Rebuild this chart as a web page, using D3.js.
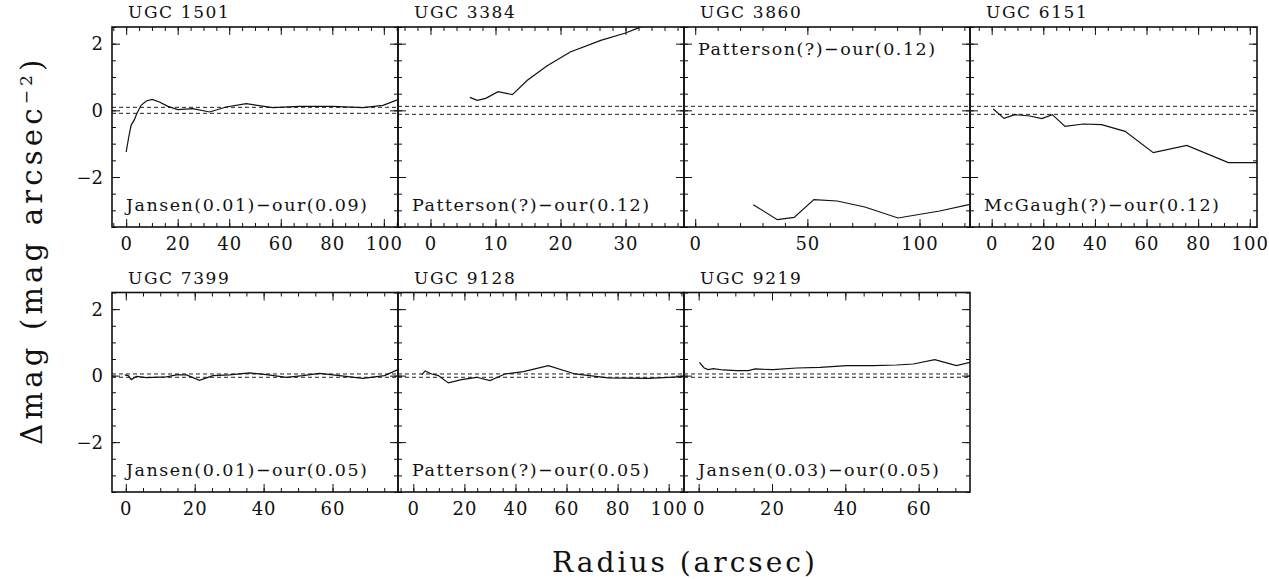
<!DOCTYPE html>
<html>
<head>
<meta charset="utf-8">
<script src="https://cdn.jsdelivr.net/npm/d3@7"></script>
<style>
  html, body { margin: 0; padding: 0; background: #fff; }
  svg text { font-family: "DejaVu Serif", "Liberation Serif", serif; fill: #111; }
</style>
</head>
<body>
<svg id="chart" width="1269" height="579"></svg>
<script>
// Galaxy names, comparison labels and the photometric error of our profiles
const galaxies = ["UGC 1501", "UGC 3384", "UGC 3860", "UGC 6151", "UGC 7399", "UGC 9128", "UGC 9219"];
const notes = [
  "Jansen(0.01)\u2212our(0.09)",
  "Patterson(?)\u2212our(0.12)",
  "Patterson(?)\u2212our(0.12)",
  "McGaugh(?)\u2212our(0.12)",
  "Jansen(0.01)\u2212our(0.05)",
  "Patterson(?)\u2212our(0.05)",
  "Jansen(0.03)\u2212our(0.05)"
];
const ourErrors = [0.09, 0.12, 0.12, 0.12, 0.05, 0.05, 0.05];

// Radius ranges (arcsec) and tick steps of each panel
const radiusRanges = [[-5.5, 105.5], [-5, 39], [-5, 122.5], [-8.4, 102.8], [-4, 79], [-6, 106], [-4, 74]];
const majorSteps = [20, 10, 50, 20, 20, 20, 20];
const minorSteps = [5, 2, 10, 5, 5, 5, 5];
const dmagRange = [-3.5, 2.5];
const dmagTicks = [-2, 0, 2];

// Magnitude differences along radius
const radius1501 = [0, 1, 1.9, 3.2, 4.1, 5.8, 7.8, 10.1, 12.9, 16.2, 20, 25.9, 32.4, 38.8, 46.6, 56.9, 67.3, 80.2, 91.9, 99.7, 105.5];
const dmag1501   = [-1.25, -0.8, -0.45, -0.28, -0.1, 0.15, 0.28, 0.33, 0.25, 0.12, 0.02, 0.05, -0.05, 0.1, 0.2, 0.08, 0.12, 0.12, 0.08, 0.15, 0.32];

const radius3384 = [6.05, 7.2, 8.5, 10.4, 12.6, 14.9, 17.9, 21.5, 26.2, 30, 31.7, 33];
const dmag3384   = [0.39, 0.3, 0.36, 0.56, 0.47, 0.9, 1.33, 1.75, 2.1, 2.32, 2.45, 2.55];

const radius3860 = [25.9, 36.6, 44.1, 52.9, 63.3, 75.6, 90.4, 109, 122.5];
const dmag3860   = [-2.83, -3.28, -3.21, -2.68, -2.72, -2.9, -3.23, -3.02, -2.82];

const radius6151 = [0.6, 4.8, 9, 14.8, 19.4, 23.5, 28.4, 35.5, 42.6, 51.7, 62.6, 75.6, 91.7, 102.8];
const dmag6151   = [0.04, -0.24, -0.13, -0.17, -0.25, -0.13, -0.48, -0.41, -0.43, -0.63, -1.27, -1.05, -1.57, -1.57];

const radius7399 = [-0.3, 0.7, 1.6, 3.1, 6, 11.8, 14.7, 17.6, 21.4, 25.3, 30.1, 35.9, 40.8, 46.6, 51.4, 56.2, 62, 68.8, 75.1, 79];
const dmag7399   = [0.02, 0, -0.12, -0.02, -0.06, -0.04, 0.02, 0.02, -0.14, 0, 0.02, 0.08, 0.03, -0.05, 0, 0.07, 0, -0.08, 0, 0.18];

const radius9128 = [3.3, 4.6, 7.2, 9.8, 13.7, 18.9, 24.8, 30, 35.9, 43.1, 52.9, 63.3, 76.3, 92, 106];
const dmag9128   = [0.02, 0.14, 0.05, 0, -0.22, -0.12, -0.05, -0.15, 0.05, 0.12, 0.3, 0.05, -0.07, -0.08, -0.03];

const radius9219 = [0.2, 1.5, 2.6, 4, 6.7, 10.3, 13.5, 15.4, 20.3, 26.7, 33.1, 40.4, 47.6, 54, 58.5, 64.4, 70.3, 74];
const dmag9219   = [0.4, 0.23, 0.18, 0.21, 0.17, 0.15, 0.15, 0.2, 0.18, 0.23, 0.25, 0.3, 0.3, 0.32, 0.35, 0.48, 0.3, 0.4];

const radii = [radius1501, radius3384, radius3860, radius6151, radius7399, radius9128, radius9219];
const dmags = [dmag1501, dmag3384, dmag3860, dmag6151, dmag7399, dmag9128, dmag9219];
// Comparison label placed at the top of the panel where the curve sits low
const noteAtTop = [false, false, true, false, false, false, false];

// Panel grid
const colEdges = [112, 398, 684, 970, 1257];
const rowEdges = [[27, 227], [292.5, 492]];

const svg = d3.select("#chart");

function inwardTicks(g, axis, tr) {
  const a = g.append("g").attr("transform", tr).call(axis);
  a.select(".domain").remove();
  a.selectAll("line").attr("stroke", "#111").attr("stroke-width", 1);
}

galaxies.forEach((name, i) => {
  const col = i % 4, row = Math.floor(i / 4);
  const x0 = colEdges[col], x1 = colEdges[col + 1];
  const [y0, y1] = rowEdges[row];

  const x = d3.scaleLinear().domain(radiusRanges[i]).range([x0, x1]);
  const y = d3.scaleLinear().domain(dmagRange).range([y1, y0]);

  const g = svg.append("g");
  const clipId = "clip" + i;
  g.append("clipPath").attr("id", clipId)
    .append("rect").attr("x", x0).attr("y", y0).attr("width", x1 - x0).attr("height", y1 - y0);

  // Tick marks on all four sides, pointing inward
  const minorX = d3.range(Math.ceil(radiusRanges[i][0] / minorSteps[i]) * minorSteps[i], radiusRanges[i][1] + 1e-9, minorSteps[i]);
  const majorX = minorX.filter(v => Math.abs(v / majorSteps[i] - Math.round(v / majorSteps[i])) < 1e-6);
  const minorY = d3.range(-3.5, 2.5 + 1e-9, 0.5);

  const none = "";
  inwardTicks(g, d3.axisBottom(x).tickValues(minorX).tickSizeInner(-4).tickSizeOuter(0).tickFormat(none), `translate(0,${y1})`);
  inwardTicks(g, d3.axisTop(x).tickValues(minorX).tickSizeInner(-4).tickSizeOuter(0).tickFormat(none), `translate(0,${y0})`);
  inwardTicks(g, d3.axisLeft(y).tickValues(minorY).tickSizeInner(-4).tickSizeOuter(0).tickFormat(none), `translate(${x0},0)`);
  inwardTicks(g, d3.axisRight(y).tickValues(minorY).tickSizeInner(-4).tickSizeOuter(0).tickFormat(none), `translate(${x1},0)`);
  inwardTicks(g, d3.axisBottom(x).tickValues(majorX).tickSizeInner(-8).tickSizeOuter(0).tickFormat(none), `translate(0,${y1})`);
  inwardTicks(g, d3.axisTop(x).tickValues(majorX).tickSizeInner(-8).tickSizeOuter(0).tickFormat(none), `translate(0,${y0})`);
  inwardTicks(g, d3.axisLeft(y).tickValues(dmagTicks).tickSizeInner(-8).tickSizeOuter(0).tickFormat(none), `translate(${x0},0)`);
  inwardTicks(g, d3.axisRight(y).tickValues(dmagTicks).tickSizeInner(-8).tickSizeOuter(0).tickFormat(none), `translate(${x1},0)`);

  // Radius tick labels
  const la = g.append("g").attr("transform", `translate(0,${y1})`)
    .call(d3.axisBottom(x).tickValues(majorX).tickSize(0).tickFormat(d3.format("d")));
  la.select(".domain").remove();
  la.selectAll("text").attr("y", 10).attr("dy", "0.71em")
    .style("font-size", "18px").style("letter-spacing", "1px")
    .style("font-family", "DejaVu Serif, serif").attr("fill", "#111");

  // Magnitude tick labels on the left column only
  if (col === 0) {
    const ya = g.append("g").attr("transform", `translate(${x0},0)`)
      .call(d3.axisLeft(y).tickValues(dmagTicks).tickSize(0).tickFormat(d => d < 0 ? "\u2212" + Math.abs(d) : d));
    ya.select(".domain").remove();
    ya.selectAll("text").attr("x", -9).attr("dy", "0.35em")
      .style("font-size", "18px").style("font-family", "DejaVu Serif, serif").attr("fill", "#111");
  }

  // Error band of our photometry
  [ourErrors[i], -ourErrors[i]].forEach(e => {
    g.append("line")
      .attr("x1", x0).attr("x2", x1).attr("y1", y(e)).attr("y2", y(e))
      .attr("stroke", "#222").attr("stroke-width", 1).attr("stroke-dasharray", "4,3");
  });

  // Profile difference
  const pts = radii[i].map((r, k) => [r, dmags[i][k]]);
  g.append("path")
    .datum(pts)
    .attr("clip-path", `url(#${clipId})`)
    .attr("fill", "none").attr("stroke", "#111").attr("stroke-width", 1.2)
    .attr("d", d3.line().x(d => x(d[0])).y(d => y(d[1])));

  // Frame
  g.append("rect")
    .attr("x", x0).attr("y", y0).attr("width", x1 - x0).attr("height", y1 - y0)
    .attr("fill", "none").attr("stroke", "#111").attr("stroke-width", 1.6);

  // Galaxy name above the panel
  g.append("text").attr("x", x0 + 16).attr("y", y0 - 9)
    .style("font-size", "17px").style("letter-spacing", "1.6px").text(name);

  // Comparison label
  g.append("text").attr("x", x0 + 14).attr("y", noteAtTop[i] ? y0 + 28 : y1 - 16)
    .style("font-size", "17.5px").style("letter-spacing", "1.5px").text(notes[i]);
});

// Axis titles
svg.append("text").attr("x", 685).attr("y", 572).attr("text-anchor", "middle")
  .style("font-size", "28px").style("letter-spacing", "3px").text("Radius (arcsec)");

const yt = svg.append("text").attr("transform", "translate(42,250) rotate(-90)")
  .attr("text-anchor", "middle").style("font-size", "29px").style("letter-spacing", "4.2px");
yt.append("tspan").text("\u0394mag (mag arcsec");
yt.append("tspan").attr("baseline-shift", "super").style("font-size", "17px").text("\u22122");
yt.append("tspan").text(")");
</script>
</body>
</html>
